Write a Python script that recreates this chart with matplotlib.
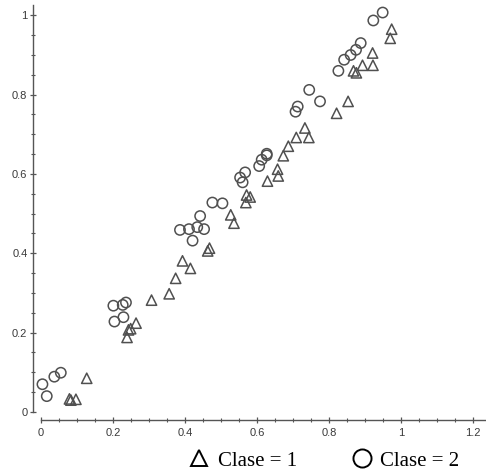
import matplotlib
matplotlib.use("Agg")
import matplotlib.pyplot as plt
from matplotlib.lines import Line2D
from matplotlib.ticker import MultipleLocator, FuncFormatter

# class 1 (triangles)
x_c1 = [0.079, 0.083, 0.097, 0.127,
        0.239, 0.243, 0.249, 0.264,
        0.307, 0.356, 0.374, 0.393, 0.415, 0.463, 0.468,
        0.527, 0.536, 0.571, 0.581, 0.569,
        0.629, 0.657, 0.659, 0.673, 0.687, 0.709, 0.744, 0.733,
        0.821, 0.853, 0.868, 0.876, 0.893, 0.921, 0.922, 0.970, 0.974]
y_c1 = [0.033, 0.030, 0.032, 0.085,
        0.188, 0.207, 0.210, 0.224,
        0.282, 0.298, 0.337, 0.381, 0.362, 0.406, 0.413,
        0.497, 0.476, 0.547, 0.542, 0.528,
        0.582, 0.612, 0.595, 0.646, 0.670, 0.692, 0.692, 0.716,
        0.753, 0.783, 0.860, 0.855, 0.874, 0.905, 0.874, 0.942, 0.965]

# class 2 (circles)
x_c2 = [0.004, 0.016, 0.037, 0.055,
        0.201, 0.227, 0.236, 0.204, 0.229,
        0.386, 0.411, 0.434, 0.453, 0.442, 0.421,
        0.476, 0.504,
        0.553, 0.560, 0.567, 0.606, 0.613, 0.627, 0.627,
        0.707, 0.713, 0.745, 0.775,
        0.826, 0.842, 0.860, 0.875, 0.888, 0.923, 0.949]
y_c2 = [0.070, 0.040, 0.089, 0.099,
        0.268, 0.270, 0.276, 0.228, 0.239,
        0.459, 0.461, 0.466, 0.461, 0.494, 0.432,
        0.528, 0.526,
        0.591, 0.579, 0.604, 0.620, 0.636, 0.651, 0.647,
        0.757, 0.770, 0.812, 0.783,
        0.860, 0.888, 0.900, 0.913, 0.930, 0.987, 1.007]

labels = ["Clase = 1", "Clase = 2"]

fig = plt.figure(figsize=(4.86, 4.76), dpi=100)
ax = fig.add_axes([41 / 486, 64 / 476, 445 / 486, 407 / 476])

edge = "#505050"
ax.scatter(x_c1, y_c1, marker="^", s=55, facecolors="none", edgecolors=edge,
           linewidths=1.1, clip_on=False)
ax.scatter(x_c2, y_c2, marker="o", s=55, facecolors="none", edgecolors=edge,
           linewidths=1.1, clip_on=False)

ax.set_xlim(0, 1.236)
ax.set_ylim(0, 1.026)

for s in ["top", "right"]:
    ax.spines[s].set_visible(False)
for s in ["left", "bottom"]:
    ax.spines[s].set_position(("outward", 5.8))
    ax.spines[s].set_color("#555555")
    ax.spines[s].set_linewidth(1.0)

ax.xaxis.set_major_locator(MultipleLocator(0.2))
ax.xaxis.set_minor_locator(MultipleLocator(0.05))
ax.yaxis.set_major_locator(MultipleLocator(0.2))
ax.yaxis.set_minor_locator(MultipleLocator(0.05))

fmt = FuncFormatter(lambda v, p: "%g" % round(v, 2))
ax.xaxis.set_major_formatter(fmt)
ax.yaxis.set_major_formatter(fmt)

ax.tick_params(which="major", direction="inout", length=4, width=0.9,
               color="#555555", labelsize=8, labelcolor="#3a3a3a", pad=2)
ax.tick_params(which="minor", direction="inout", length=2.5, width=0.8,
               color="#555555")
ax.tick_params(axis="x", which="major", pad=4)
for t in ax.get_xticklabels() + ax.get_yticklabels():
    t.set_family(["Liberation Sans", "DejaVu Sans"])

# legend below the axis
handles = [
    Line2D([], [], linestyle="none", marker="^", markersize=12,
           markerfacecolor="none", markeredgecolor="black", markeredgewidth=1.4),
    Line2D([], [], linestyle="none", marker="o", markersize=13,
           markerfacecolor="none", markeredgecolor="black", markeredgewidth=1.4),
]
fig.legend(handles, labels, loc="center", bbox_to_anchor=(0.667, 0.032),
           ncol=2, frameon=False, handletextpad=0.4, columnspacing=2.6,
           handlelength=1.0,
           prop={"family": ["Liberation Serif", "DejaVu Serif"], "size": 15})

fig.savefig("out.png", dpi=100)
